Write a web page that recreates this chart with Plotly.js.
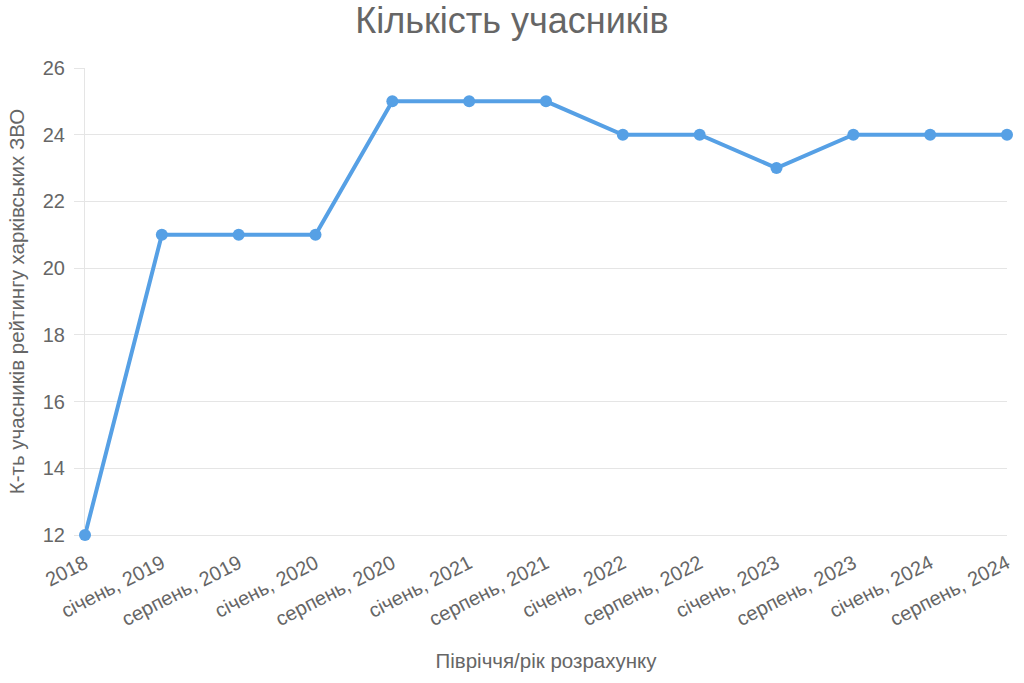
<!DOCTYPE html>
<html>
<head>
<meta charset="utf-8">
<script src="https://cdn.plot.ly/plotly-3.0.1.min.js"></script>
<style>html,body{margin:0;padding:0;background:#fff;}#chart{width:1024px;height:683px;}</style>
</head>
<body>
<div id="chart"></div>
<script>
var categories = ["2018", "січень, 2019", "серпень, 2019", "січень, 2020", "серпень, 2020", "січень, 2021", "серпень, 2021", "січень, 2022", "серпень, 2022", "січень, 2023", "серпень, 2023", "січень, 2024", "серпень, 2024"];
var participants = [12, 21, 21, 21, 25, 25, 25, 24, 24, 23, 24, 24, 24];
var yTicks = [12, 14, 16, 18, 20, 22, 24, 26];

var FONT = "Liberation Sans, Arial, sans-serif";
var trace = {
  x: categories,
  y: participants,
  type: "scatter",
  mode: "lines+markers",
  line: {color: "#56a0e5", width: 4},
  marker: {color: "#56a0e5", size: 12},
  cliponaxis: false,
  hoverinfo: "x+y"
};
var layout = {
  width: 1024, height: 683,
  margin: {l: 85, r: 17, t: 68, b: 148},
  paper_bgcolor: "#fff", plot_bgcolor: "#fff",
  font: {family: FONT, color: "#666", size: 20},
  showlegend: false,
  title: {text: "Кількість учасників", font: {family: FONT, size: 36, color: "#666"}, x: 0.5, xanchor: "center", y: 0.97, yanchor: "middle"},
  xaxis: {
    type: "category", range: [0, 12], showgrid: false, zeroline: false,
    showline: true, linecolor: "#e5e5e5", linewidth: 1, ticks: "", tickangle: -27,
    layer: "below traces",
    ticklabelstandoff: 8,
    tickfont: {family: FONT, size: 20, color: "#666"},
    title: {text: "Півріччя/рік розрахунку", font: {family: FONT, size: 20.5, color: "#666"}, standoff: 24}
  },
  yaxis: {
    range: [12, 26], tickvals: yTicks, ticktext: yTicks.map(String),
    showgrid: true, gridcolor: "#e5e5e5", gridwidth: 1, zeroline: false,
    showline: true, linecolor: "#e5e5e5", linewidth: 1,
    layer: "below traces",
    ticks: "outside", ticklen: 10, tickcolor: "#e5e5e5",
    ticklabelstandoff: 5,
    tickfont: {family: FONT, size: 20, color: "#666"},
    title: {text: "К-ть учасників рейтингу харківських ЗВО", font: {family: FONT, size: 20.5, color: "#666"}, standoff: 12}
  }
};
Plotly.newPlot("chart", [trace], layout, {displayModeBar: false, responsive: false});
</script>
</body>
</html>
